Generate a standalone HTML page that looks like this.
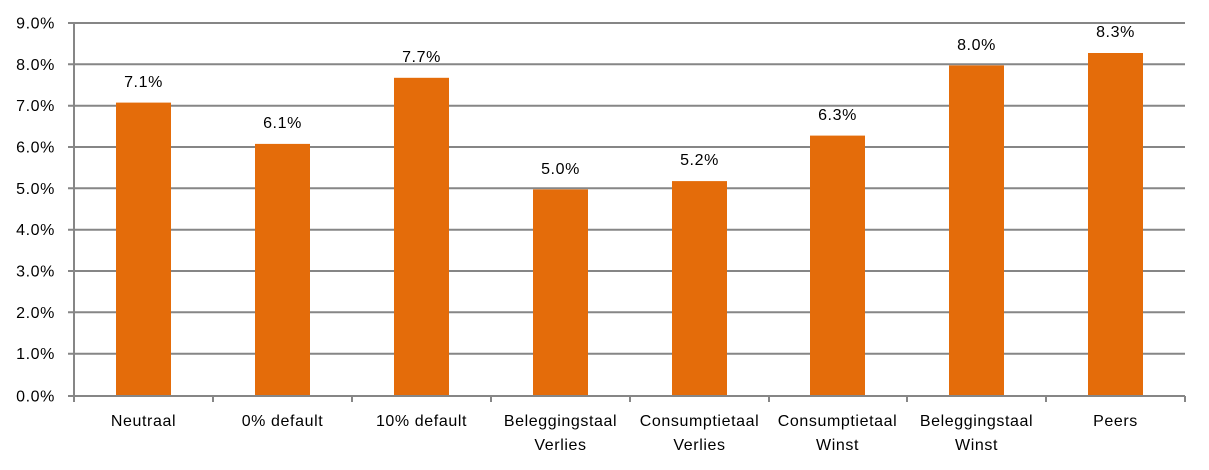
<!DOCTYPE html>
<html><head><meta charset="utf-8"><style>
body{margin:0;background:#fff;}
svg{display:block;font-family:"Liberation Sans",sans-serif;}
text{letter-spacing:0.6px;}
</style></head><body>
<svg width="1209" height="470" viewBox="0 0 1209 470">
<g stroke="#868686" stroke-width="2">
<line x1="68" y1="23" x2="1185" y2="23"/>
<line x1="68" y1="64.3" x2="1185" y2="64.3"/>
<line x1="68" y1="105.7" x2="1185" y2="105.7"/>
<line x1="68" y1="147" x2="1185" y2="147"/>
<line x1="68" y1="188.3" x2="1185" y2="188.3"/>
<line x1="68" y1="229.7" x2="1185" y2="229.7"/>
<line x1="68" y1="271" x2="1185" y2="271"/>
<line x1="68" y1="312.3" x2="1185" y2="312.3"/>
<line x1="68" y1="353.7" x2="1185" y2="353.7"/>
<line x1="74" y1="23" x2="74" y2="396"/>
</g>
<g fill="#e46c0a">
<rect x="116" y="102.6" width="55" height="293.4"/>
<rect x="255" y="143.9" width="55" height="252.1"/>
<rect x="394" y="77.8" width="55" height="318.2"/>
<rect x="533" y="189.4" width="55" height="206.6"/>
<rect x="672" y="181.1" width="55" height="214.9"/>
<rect x="810" y="135.6" width="55" height="260.4"/>
<rect x="949" y="65.4" width="55" height="330.6"/>
<rect x="1088" y="53" width="55" height="343"/>
</g>
<g stroke="#868686" stroke-width="2">
<line x1="68" y1="396" x2="1185" y2="396"/>
<line x1="74" y1="396" x2="74" y2="402"/>
<line x1="213" y1="396" x2="213" y2="402"/>
<line x1="352" y1="396" x2="352" y2="402"/>
<line x1="491" y1="396" x2="491" y2="402"/>
<line x1="630" y1="396" x2="630" y2="402"/>
<line x1="769" y1="396" x2="769" y2="402"/>
<line x1="907" y1="396" x2="907" y2="402"/>
<line x1="1046" y1="396" x2="1046" y2="402"/>
<line x1="1185" y1="396" x2="1185" y2="402"/>
</g>
<g font-size="16" fill="#000" text-anchor="end">
<text x="55" y="28.5">9.0%</text>
<text x="55" y="69.8">8.0%</text>
<text x="55" y="111.2">7.0%</text>
<text x="55" y="152.5">6.0%</text>
<text x="55" y="193.8">5.0%</text>
<text x="55" y="235.2">4.0%</text>
<text x="55" y="276.5">3.0%</text>
<text x="55" y="317.8">2.0%</text>
<text x="55" y="359.2">1.0%</text>
<text x="55" y="401.5">0.0%</text>
</g>
<g font-size="16" fill="#000" text-anchor="middle">
<text x="143.5" y="87">7.1%</text>
<text x="282.5" y="128">6.1%</text>
<text x="421.5" y="62">7.7%</text>
<text x="560.5" y="174">5.0%</text>
<text x="699.5" y="165">5.2%</text>
<text x="837.5" y="120">6.3%</text>
<text x="976.5" y="50">8.0%</text>
<text x="1115.5" y="37">8.3%</text>
<text x="143.5" y="426">Neutraal</text>
<text x="282.5" y="426">0% default</text>
<text x="421.5" y="426">10% default</text>
<text x="560.5" y="426">Beleggingstaal</text>
<text x="560.5" y="450">Verlies</text>
<text x="699.5" y="426">Consumptietaal</text>
<text x="699.5" y="450">Verlies</text>
<text x="837.5" y="426">Consumptietaal</text>
<text x="837.5" y="450">Winst</text>
<text x="976.5" y="426">Beleggingstaal</text>
<text x="976.5" y="450">Winst</text>
<text x="1115.5" y="426">Peers</text>
</g>
</svg>
</body></html>
